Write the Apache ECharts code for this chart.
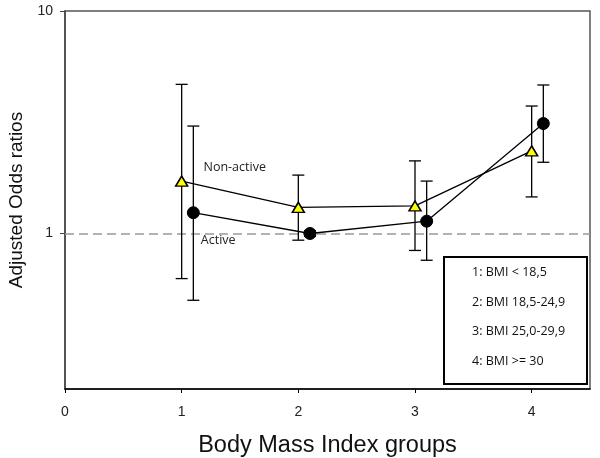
<!DOCTYPE html>
<html>
<head>
<meta charset="utf-8">
<script src="https://cdn.jsdelivr.net/npm/echarts@6/dist/echarts.min.js"></script>
<style>html,body{margin:0;padding:0;background:#fff;}#c{width:600px;height:458px;}</style>
</head>
<body>
<div id="c"></div>
<script>
// ---- data ----
const xTickValues = [0, 1, 2, 3, 4];
const yTickValues = [1, 10];
const nonActiveX = [1, 2, 3, 4];
const nonActiveOR = [1.72, 1.31, 1.33, 2.35];
const nonActiveLow = [0.627, 0.933, 0.839, 1.46];
const nonActiveHigh = [4.68, 1.83, 2.12, 3.74];
const activeX = [1.1, 2.1, 3.1, 4.1];
const activeOR = [1.24, 1.0, 1.136, 3.12];
const activeLow = [0.501, 0.97, 0.758, 2.09];
const activeHigh = [3.04, 1.03, 1.72, 4.65];
const referenceLine = 1;
const seriesNames = ['Non-active', 'Active'];
const legendLines = ['1: BMI < 18,5', '2: BMI 18,5-24,9', '3: BMI 25,0-29,9', '4: BMI >= 30'];

// ---- build ----
function errData(xs, lo, hi) { return xs.map((x, i) => [x, lo[i], hi[i]]); }
function errRender(params, api) {
  const x = api.value(0);
  const p1 = api.coord([x, api.value(1)]);
  const p2 = api.coord([x, api.value(2)]);
  const w = 6;
  const st = { stroke: '#000', lineWidth: 1.3 };
  return {
    type: 'group',
    children: [
      { type: 'line', shape: { x1: p1[0], y1: p1[1], x2: p2[0], y2: p2[1] }, style: st },
      { type: 'line', shape: { x1: p1[0] - w, y1: p1[1], x2: p1[0] + w, y2: p1[1] }, style: st },
      { type: 'line', shape: { x1: p2[0] - w, y1: p2[1], x2: p2[0] + w, y2: p2[1] }, style: st }
    ]
  };
}
const labelFont = { fontFamily: 'Open Sans', fontSize: 12.5, color: '#222' };
const nonActiveData = nonActiveX.map((x, i) => i === 0 ?
  { value: [x, nonActiveOR[i]], label: Object.assign({ show: true, formatter: seriesNames[0], position: 'right', offset: [10, -14] }, labelFont) } :
  [x, nonActiveOR[i]]);
const activeData = activeX.map((x, i) => i === 0 ?
  { value: [x, activeOR[i]], label: Object.assign({ show: true, formatter: seriesNames[1], position: 'right', offset: [-4, 28] }, labelFont) } :
  [x, activeOR[i]]);

const legendGraphics = [{
  type: 'rect', left: 443, top: 256, z: 100,
  shape: { width: 143, height: 127 },
  style: { fill: '#fff', stroke: '#000', lineWidth: 2 }
}].concat(legendLines.map((t, i) => ({
  type: 'text', left: 472, top: 266 + i * 29.5, z: 101,
  style: { text: t, fontFamily: 'Open Sans', fontSize: 12.5, fill: '#111' }
})));

const chart = echarts.init(document.getElementById('c'), null, { renderer: 'canvas' });
chart.setOption({
  animation: false,
  backgroundColor: '#fff',
  grid: { left: 65, right: 10, top: 11, bottom: 69, show: true, borderColor: '#555', borderWidth: 1.5, containLabel: false, outerBoundsMode: 'none' },
  xAxis: {
    type: 'value', min: 0, max: 4.5, interval: 1,
    name: 'Body Mass Index groups', nameLocation: 'middle', nameGap: 45,
    nameTextStyle: { fontFamily: 'Liberation Sans', fontSize: 23.5, color: '#111' },
    axisLine: { show: true, lineStyle: { color: '#000', width: 1.5 } },
    axisTick: { show: true, length: 4, lineStyle: { color: '#000' }, customValues: xTickValues },
    axisLabel: { margin: 16, fontFamily: 'Liberation Sans', fontSize: 14, color: '#222', customValues: xTickValues },
    splitLine: { show: false }
  },
  yAxis: {
    type: 'log', logBase: 10, min: 0.2, max: 10,
    name: 'Adjusted Odds ratios', nameLocation: 'middle', nameGap: 38,
    nameTextStyle: { fontFamily: 'Liberation Sans', fontSize: 19, color: '#111' },
    axisLine: { show: true, lineStyle: { color: '#444', width: 1.5 } },
    axisTick: { show: true, length: 5, lineStyle: { color: '#444' }, customValues: yTickValues },
    axisLabel: { margin: 12, fontFamily: 'Liberation Sans', fontSize: 14, color: '#222', customValues: yTickValues },
    splitLine: { show: false }
  },
  series: [
    { type: 'custom', name: 'errNonActive', renderItem: errRender, data: errData(nonActiveX, nonActiveLow, nonActiveHigh), z: 2, silent: true },
    { type: 'custom', name: 'errActive', renderItem: errRender, data: errData(activeX, activeLow, activeHigh), z: 2, silent: true },
    {
      type: 'line', name: seriesNames[1], data: activeData, z: 5,
      symbol: 'circle', symbolSize: 12,
      itemStyle: { color: '#000', borderColor: '#000', borderWidth: 1 },
      lineStyle: { color: '#000', width: 1.3 },
      markLine: {
        silent: true, symbol: 'none', z: 1,
        label: { show: false },
        lineStyle: { color: '#999', type: [9, 5], width: 1.5 },
        data: [{ yAxis: referenceLine }]
      }
    },
    {
      type: 'line', name: seriesNames[0], data: nonActiveData, z: 6,
      symbol: 'triangle', symbolSize: [12, 10],
      itemStyle: { color: '#ffff00', borderColor: '#000', borderWidth: 1.5 },
      lineStyle: { color: '#000', width: 1.3 }
    }
  ],
  graphic: legendGraphics
});
</script>
</body>
</html>
